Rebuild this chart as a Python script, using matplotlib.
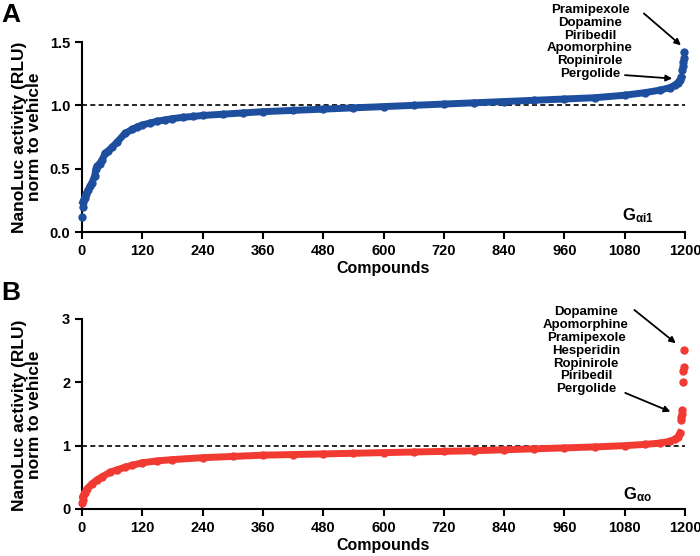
import matplotlib
matplotlib.use('Agg')
import matplotlib.pyplot as plt

plt.rcParams['font.family'] = ['Liberation Sans', 'DejaVu Sans']
plt.rcParams['font.weight'] = 'bold'
plt.rcParams['mathtext.fontset'] = 'custom'
plt.rcParams['mathtext.rm'] = 'Liberation Sans:bold'
plt.rcParams['mathtext.it'] = 'Liberation Sans:bold'
plt.rcParams['mathtext.bf'] = 'Liberation Sans:bold'
plt.rcParams['mathtext.default'] = 'bf'

# panel A (G alpha i1) - main ranked curve
rank_a = [2, 5, 8, 12, 16, 20, 25, 28, 30, 35, 40, 46, 52, 60, 70, 86, 100, 110, 120,
          135, 150, 165, 180, 200, 220, 240, 280, 320, 360, 420, 480, 540, 600, 660,
          720, 780, 840, 900, 960, 1020, 1080, 1120, 1150, 1170, 1180, 1186, 1190, 1193]
val_a = [0.24, 0.27, 0.30, 0.33, 0.36, 0.39, 0.44, 0.50, 0.52, 0.54, 0.57, 0.62, 0.64, 0.67,
         0.71, 0.78, 0.81, 0.83, 0.845, 0.86, 0.875, 0.885, 0.895, 0.905, 0.912, 0.92, 0.93,
         0.94, 0.95, 0.96, 0.97, 0.98, 0.99, 1.0, 1.01, 1.02, 1.03, 1.04, 1.05, 1.06, 1.08,
         1.10, 1.12, 1.14, 1.16, 1.18, 1.20, 1.22]
# panel A outliers
out_rank_a = [0, 1, 1195, 1196, 1197, 1198, 1199]
out_val_a = [0.12, 0.20, 1.28, 1.31, 1.34, 1.37, 1.42]

# panel B (G alpha o) - main ranked curve
rank_b = [2, 5, 10, 20, 30, 40, 56, 70, 86, 100, 120, 150, 180, 240, 300, 360, 420, 480,
          540, 600, 660, 720, 780, 840, 900, 960, 1020, 1080, 1120, 1150, 1170, 1180,
          1186, 1190]
val_b = [0.20, 0.26, 0.32, 0.40, 0.46, 0.51, 0.58, 0.62, 0.66, 0.69, 0.73, 0.76, 0.78,
         0.81, 0.83, 0.85, 0.86, 0.87, 0.88, 0.89, 0.90, 0.91, 0.92, 0.935, 0.95, 0.965,
         0.98, 1.0, 1.02, 1.04, 1.07, 1.10, 1.14, 1.20]
out_rank_b = [0, 1, 1192, 1193, 1194, 1195, 1196, 1197, 1198, 1199]
out_val_b = [0.10, 0.15, 1.40, 1.45, 1.50, 1.56, 2.00, 2.18, 2.24, 2.51]

xticks = [0, 120, 240, 360, 480, 600, 720, 840, 960, 1080, 1200]
hits_a = ['Pramipexole', 'Dopamine', 'Piribedil', 'Apomorphine', 'Ropinirole', 'Pergolide']
hits_b = ['Dopamine', 'Apomorphine', 'Pramipexole', 'Hesperidin', 'Ropinirole',
          'Piribedil', 'Pergolide']

blue = '#1e4f9f'
red = '#f03a32'

fig = plt.figure(figsize=(7, 5.56), dpi=100)
axA = fig.add_axes([82/700, 1-232/556, 603/700, 190/556])
axB = fig.add_axes([82/700, 1-509/556, 603/700, 190/556])


def style(ax, ymax, yticks, ylabels):
    ax.set_xlim(0, 1200)
    ax.set_ylim(0, ymax)
    ax.set_xticks(xticks)
    ax.set_yticks(yticks)
    ax.set_yticklabels(ylabels)
    ax.spines['top'].set_visible(False)
    ax.spines['right'].set_visible(False)
    for s in ['left', 'bottom']:
        ax.spines[s].set_linewidth(1.5)
    ax.tick_params(width=1.5, length=5, labelsize=10.5)
    for lab in ax.get_xticklabels() + ax.get_yticklabels():
        lab.set_fontweight('bold')
    ax.axhline(1.0, color='black', ls=(0, (3, 2)), lw=1.2, zorder=1)
    ax.set_xlabel('Compounds', fontsize=11.5, fontweight='bold', labelpad=2)


style(axA, 1.5, [0, 0.5, 1.0, 1.5], ['0.0', '0.5', '1.0', '1.5'])
style(axB, 3, [0, 1, 2, 3], ['0', '1', '2', '3'])

axA.plot(rank_a, val_a, '-o', color=blue, lw=5, ms=5, clip_on=False, zorder=3)
axA.plot(out_rank_a, out_val_a, 'o', color=blue, ms=5, clip_on=False, zorder=3)
axB.plot(rank_b, val_b, '-o', color=red, lw=5, ms=5, clip_on=False, zorder=3)
axB.plot(out_rank_b, out_val_b, 'o', color=red, ms=5, clip_on=False, zorder=3)

# hit annotations
axA.text(1011, 1.50, '\n'.join(hits_a), ha='center', va='center', fontsize=9.5,
         fontweight='bold', linespacing=1.08)
arr = dict(arrowstyle='-|>', color='black', lw=1.3, mutation_scale=9)
axA.annotate('', xy=(1196, 1.46), xytext=(1114, 1.74), arrowprops=arr, annotation_clip=False)
axA.annotate('', xy=(1180, 1.21), xytext=(1075, 1.24), arrowprops=arr, annotation_clip=False)

axB.text(1003, 2.50, '\n'.join(hits_b), ha='center', va='center', fontsize=9.5,
         fontweight='bold', linespacing=1.1)
axB.annotate('', xy=(1186, 2.59), xytext=(1095, 3.17), arrowprops=arr, annotation_clip=False)
axB.annotate('', xy=(1176, 1.52), xytext=(1076, 1.85), arrowprops=arr, annotation_clip=False)

axA.text(1106, 0.13, r'G$_{\alpha i1}$', fontsize=12, fontweight='bold', ha='center', va='center')
axB.text(1106, 0.22, r'G$_{\alpha o}$', fontsize=12, fontweight='bold', ha='center', va='center')

ylab = 'NanoLuc activity (RLU)\nnorm to vehicle'
fig.text(27/700, 1-137/556, ylab, rotation=90, ha='center', va='center', fontsize=12.5,
         fontweight='bold', multialignment='center', linespacing=1.0)
fig.text(27/700, 1-415/556, ylab, rotation=90, ha='center', va='center', fontsize=12.5,
         fontweight='bold', multialignment='center', linespacing=1.0)

fig.text(1/700, 1-3/556, 'A', fontsize=19, fontweight='bold', va='top', ha='left')
fig.text(1/700, 1-281/556, 'B', fontsize=19, fontweight='bold', va='top', ha='left')

fig.savefig('out.png', dpi=100)
